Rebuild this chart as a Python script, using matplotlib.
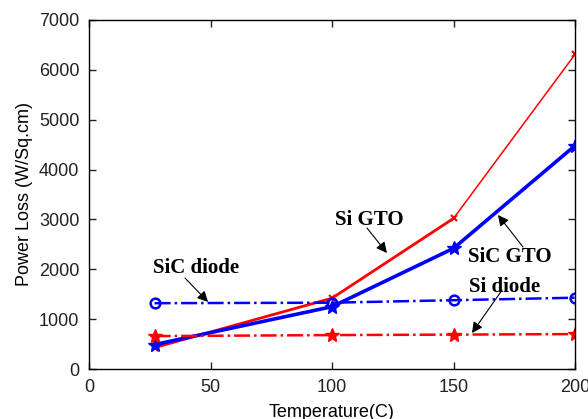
import matplotlib
matplotlib.use("Agg")
import matplotlib.pyplot as plt

temps = [27, 100, 150, 200]
si_gto = [430, 1420, 3020, 6310]
sic_gto = [490, 1250, 2420, 4480]
sic_diode = [1320, 1330, 1380, 1430]
si_diode = [660, 680, 690, 700]

xticks = [0, 50, 100, 150, 200]
yticks = [0, 1000, 2000, 3000, 4000, 5000, 6000, 7000]

plt.rcParams['font.family'] = ['Liberation Sans', 'DejaVu Sans']

fig = plt.figure(figsize=(5.88, 4.19), dpi=100)
ax = fig.add_axes([89/588, 1-369/419, 486/588, 349/419])

ax.plot(temps[:3], si_gto[:3], color='red', lw=2.0)
ax.plot(temps[2:], si_gto[2:], color='red', lw=1.1)
ax.plot(temps, si_gto, color='red', lw=0, marker='x', ms=5, mew=1.5)
ax.plot(temps, sic_gto, color='blue', lw=2.6, marker='*', ms=10)
ax.plot(temps, sic_diode, color='blue', lw=1.8, ls='-.', marker='o', ms=7,
        mfc='none', mew=1.8)
ax.plot(temps, si_diode, color='red', lw=1.8, ls='-.', marker='*', ms=10)

ax.set_xlim(0, 200)
ax.set_ylim(0, 7000)
ax.set_xticks(xticks)
ax.set_yticks(yticks)
ax.tick_params(direction='in', top=True, right=True, labelsize=13,
               length=5, width=1, colors='#222222', pad=7)
for s in ax.spines.values():
    s.set_linewidth(1)
ax.set_xlabel('Temperature(C)', fontsize=13, labelpad=6)
ax.set_ylabel('Power Loss (W/Sq.cm)', fontsize=13, labelpad=4)

tfont = dict(family='Liberation Serif', fontweight='bold', fontsize=15,
             ha='center', va='center')
arrow = dict(arrowstyle='-|>', color='black', lw=0.8, mutation_scale=16,
             shrinkA=0, shrinkB=0)

labels = ['SiC diode', 'Si GTO', 'SiC GTO', 'Si diode']
label_pos = [(44, 2030), (115.2, 2990), (173.3, 2246), (171, 1645)]
arrow_tail = [(39.5, 1825), (114.4, 2828), (178.6, 2447), (170, 1584)]
arrow_tip = [(49, 1344), (122.6, 2326), (168.3, 3089), (157.6, 722)]

for lab, pos, tail, tip in zip(labels, label_pos, arrow_tail, arrow_tip):
    ax.text(pos[0], pos[1], lab, **tfont)
    ax.annotate('', xy=tip, xytext=tail, arrowprops=arrow)

fig.savefig('out.png', dpi=100)
